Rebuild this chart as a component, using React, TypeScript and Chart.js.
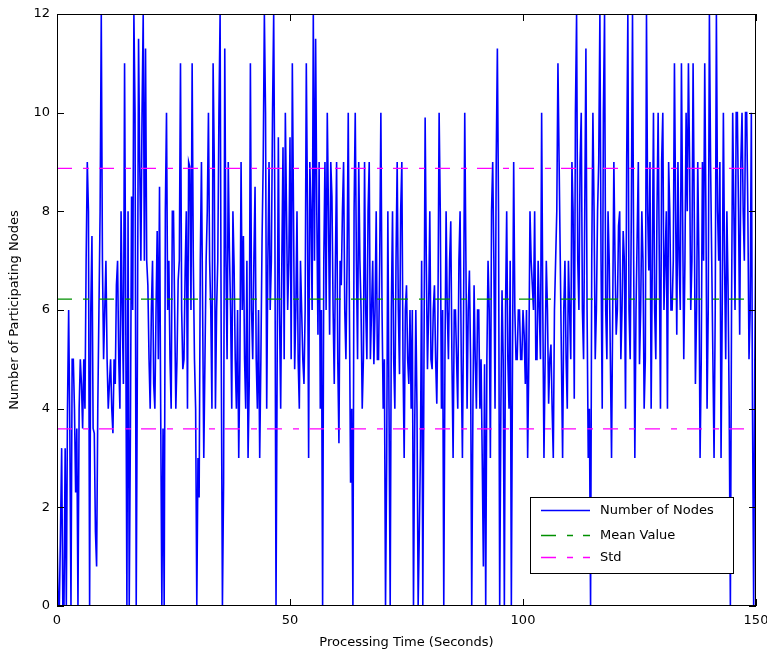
import React, { useEffect, useRef } from 'react';
import { Chart, registerables } from 'chart.js';

Chart.register(...registerables);

// sample spacing of the series (seconds)
const SAMPLE_STEP = 0.25;

// Number of participating nodes: samples on the half second
const nodesT0 = [1.5, 0, 3.2, 0, 0, 6, 0, 5, 2.3, 0, 5, 3.6, 4, 9, 0, 7.5, 3.5, 0.8, 6, 12, 5, 7, 4, 5, 3.5, 4.5, 7, 4, 6, 11, 0, 0, 8.3, 12, 0, 11.5, 7, 12];
const nodesT19 = [11.3, 6.5, 4, 7, 4, 7.6, 8.5, 0, 0, 10, 7, 4, 8, 4, 6.6, 11, 4.8, 6.8, 4, 8.9, 11, 5, 0, 2.2, 9, 3, 7, 10, 6, 11, 4, 7, 12, 0, 11.3, 5, 7.2, 4];
const nodesT38 = [6.9, 4, 3, 9, 7.5, 4, 3, 11, 5, 8.5, 4, 3, 7.4, 12, 4, 9, 7, 12, 0, 9.5, 4, 9.3, 10, 6, 9.5, 11, 4.8, 8, 4, 6, 4.5, 11, 3, 8, 12, 11.5, 5.5, 4];
const nodesT57 = [0, 9, 10, 5.5, 8.3, 4.5, 9, 3.3, 6.5, 9, 5, 10, 2.5, 0, 10, 5, 7, 4, 9, 5, 9, 6, 4.9, 8, 5, 10, 4, 0, 8, 0, 8, 4, 9, 4.7, 9, 3, 6.5, 4.5];
const nodesT76 = [4, 0, 6, 0, 3.2, 0, 9.9, 4.8, 8, 4.8, 6.5, 4.1, 10, 4, 0, 8, 5, 7.8, 3, 6, 4, 8, 3, 10, 4, 6.8, 0, 6.5, 4, 6, 5, 0.8, 0, 7, 3, 9, 4, 11.3];
const nodesT95 = [0, 6.4, 0, 8, 4, 0, 9, 5, 6, 5, 6, 4.5, 3, 8, 6.5, 8, 5, 6, 10, 3, 7, 4.1, 5.3, 3, 7, 11, 7, 3, 7, 4, 6, 9, 4.2, 12, 6, 10, 5];
const nodesT113 = [11.3, 3, 0, 10, 5, 8, 12, 4, 12, 5, 7, 3, 9, 5.5, 7.7, 5, 7.6, 4, 12, 5, 12, 3, 7.5, 4.9, 8, 4, 12, 6.8, 4, 10, 5, 10, 4, 10, 7, 4, 8, 6];
const nodesT132 = [11, 5.5, 7, 11, 5, 10, 11, 6, 11, 4.5, 9, 3, 9, 11, 4, 12, 7, 3, 12, 7, 3, 10, 5, 6.5, 0, 10, 6, 10, 5.5, 10, 7, 10, 5, 10, 0, 8];

// samples a quarter second after each of the above
const midT0 = [0, 1.5, 0, 3.2, 4, 3.6, 5, 4, 3.6, 4, 4.5, 5, 7, 8, 6, 3.6, 1.5, 4, 8, 7, 6, 5, 4.5, 4, 5, 6.5, 5, 8, 4.5, 6, 8, 3.5, 6, 10, 5, 9, 10, 7];
const midT19 = [7, 5, 6, 4.5, 6, 5, 4, 3.6, 8, 6, 5, 8, 6, 5, 7, 6, 5, 8, 9, 6, 7, 4, 3, 7, 6, 5, 8, 7, 4, 9, 6, 10, 5, 2.5, 7, 9, 6, 8];
const midT38 = [5, 6, 5, 6, 5, 7, 4.5, 6, 7, 5, 6, 5, 9, 10, 7, 6, 10, 8, 5, 6, 7, 5, 8, 7, 5, 8, 6, 5, 7, 5, 6, 8, 9, 6, 7, 8, 9, 6];
const midT57 = [7, 6, 8, 9, 6, 7, 5, 7, 8, 6, 7, 6, 4, 8, 7, 9, 6, 5, 6, 8, 5, 7, 6, 5, 7, 6, 5, 3, 4, 6, 5, 7, 6, 8, 5, 6, 5, 6];
const midT76 = [6, 3.5, 4, 1.5, 7, 5, 7, 6, 5, 6, 5, 6, 8, 6, 5, 6, 7, 5, 6, 5, 7, 5, 6, 7, 6, 5, 4, 5, 6, 4, 3, 4.9, 5, 6, 8, 7, 9, 8];
const midT95 = [4, 5, 6, 5, 7, 5, 6, 5, 6, 5, 5.5, 6, 5, 7, 6, 5, 7, 5, 6, 5, 6, 5, 4, 6, 8, 9, 5, 6, 5, 7, 5, 8, 10, 7, 9, 6, 8];
const midT113 = [6, 4, 7, 8, 6, 9, 7, 10, 6, 8, 5, 6, 7, 6, 8, 6, 7, 9, 6, 8, 7, 6, 9, 6, 7, 5, 8, 9, 7, 6, 8, 7, 9, 6, 8, 9, 6, 7];
const midT132 = [8, 9, 6, 8, 7, 8, 9, 7, 8, 6, 7, 5, 7, 8, 6, 9, 5, 6, 8, 9, 6, 7, 8, 4, 6, 8, 10, 8, 9, 8, 10, 8, 6, 4, 5];

const halfSecond = [
  ...nodesT0, ...nodesT19, ...nodesT38, ...nodesT57,
  ...nodesT76, ...nodesT95, ...nodesT113, ...nodesT132,
];
const quarterOffset = [
  ...midT0, ...midT19, ...midT38, ...midT57,
  ...midT76, ...midT95, ...midT113, ...midT132,
];
const nodeCounts: number[] = [];
halfSecond.forEach((v, i) => {
  nodeCounts.push(v);
  if (i < quarterOffset.length) nodeCounts.push(quarterOffset[i]);
});

const meanValue = 6.22;
const stdUpper = 8.87;
const stdLower = 3.59;

const xRange = [0, 150];
const yRange = [0, 12];
const xTickStep = 50;
const yTickStep = 2;

const seriesLabels = ['Number of Nodes', 'Mean Value', 'Std'];
const xTitle = 'Processing Time (Seconds)';
const yTitle = 'Number of Participating Nodes';

const FONT = "'DejaVu Sans', sans-serif";
const BLUE = '#0000ff';
const GREEN = '#009000';
const MAGENTA = '#ff00ff';
const DASH = [15, 11, 6, 10];

const framePlugin = {
  id: 'matlabFrame',
  afterDatasetsDraw(chart: any) {
    const { ctx, chartArea: a, scales } = chart;
    ctx.save();
    ctx.strokeStyle = '#000';
    ctx.lineWidth = 1;
    ctx.strokeRect(a.left + 0.5, a.top + 0.5, a.right - a.left - 1, a.bottom - a.top - 1);
    const tl = 7;
    ctx.beginPath();
    for (let v = xRange[0]; v <= xRange[1]; v += xTickStep) {
      const px = Math.round(scales.x.getPixelForValue(v)) + 0.5;
      ctx.moveTo(px, a.bottom);
      ctx.lineTo(px, a.bottom - tl);
      ctx.moveTo(px, a.top);
      ctx.lineTo(px, a.top + tl);
    }
    for (let v = yRange[0]; v <= yRange[1]; v += yTickStep) {
      const py = Math.round(scales.y.getPixelForValue(v)) + 0.5;
      ctx.moveTo(a.left, py);
      ctx.lineTo(a.left + tl, py);
      ctx.moveTo(a.right, py);
      ctx.lineTo(a.right - tl, py);
    }
    ctx.stroke();
    ctx.restore();
  },
  afterDraw(chart: any) {
    const { ctx, chartArea: a } = chart;
    const w = 203;
    const h = 76;
    const right = a.right - 23;
    const bottom = a.bottom - 33;
    const left = right - w;
    const top = bottom - h;
    ctx.save();
    ctx.fillStyle = '#fff';
    ctx.fillRect(left, top, w, h);
    ctx.strokeStyle = '#000';
    ctx.lineWidth = 1;
    ctx.strokeRect(Math.round(left) + 0.5, Math.round(top) + 0.5, w, h);
    const rows = [
      { label: seriesLabels[0], color: BLUE, dash: [] as number[], dy: 13 },
      { label: seriesLabels[1], color: GREEN, dash: DASH, dy: 38 },
      { label: seriesLabels[2], color: MAGENTA, dash: DASH, dy: 60 },
    ];
    ctx.font = `13px ${FONT}`;
    ctx.textBaseline = 'middle';
    ctx.textAlign = 'left';
    for (const r of rows) {
      const y = Math.round(top + r.dy) + 0.5;
      ctx.strokeStyle = r.color;
      ctx.lineWidth = 1.5;
      ctx.setLineDash(r.dash);
      ctx.beginPath();
      ctx.moveTo(left + 11, y);
      ctx.lineTo(left + 60, y);
      ctx.stroke();
      ctx.setLineDash([]);
      ctx.fillStyle = '#000';
      ctx.fillText(r.label, left + 70, y);
    }
    ctx.restore();
  },
};

export default function App() {
  const canvasRef = useRef<HTMLCanvasElement | null>(null);

  useEffect(() => {
    if (!canvasRef.current) return;
    const flat = (v: number) => [{ x: xRange[0], y: v }, { x: xRange[1], y: v }];
    const noEdgePad = (s: any) => {
      s.paddingLeft = 0;
      s.paddingRight = 0;
      s.paddingTop = 0;
      s.paddingBottom = 0;
    };
    const chart = new Chart(canvasRef.current, {
      type: 'line',
      data: {
        datasets: [
          {
            label: seriesLabels[0],
            data: nodeCounts.map((v, i) => ({ x: i * SAMPLE_STEP, y: v })),
            borderColor: BLUE,
            borderWidth: 1.6,
            pointRadius: 0,
            order: 3,
          },
          {
            label: seriesLabels[1],
            data: flat(meanValue),
            borderColor: GREEN,
            borderWidth: 1.4,
            borderDash: DASH,
            pointRadius: 0,
            order: 2,
          },
          {
            label: seriesLabels[2],
            data: flat(stdUpper),
            borderColor: MAGENTA,
            borderWidth: 1.4,
            borderDash: DASH,
            pointRadius: 0,
            order: 1,
          },
          {
            label: seriesLabels[2] + ' (lower)',
            data: flat(stdLower),
            borderColor: MAGENTA,
            borderWidth: 1.4,
            borderDash: DASH,
            pointRadius: 0,
            order: 1,
          },
        ],
      },
      options: {
        responsive: false,
        animation: false,
        events: [],
        layout: { padding: { left: 7, top: 14, right: 11, bottom: 4 } },
        plugins: { legend: { display: false }, tooltip: { enabled: false } },
        scales: {
          x: {
            type: 'linear',
            min: xRange[0],
            max: xRange[1],
            grid: { display: false, drawTicks: false },
            border: { display: false },
            ticks: { stepSize: xTickStep, color: '#000', font: { family: FONT, size: 13 }, padding: 7, maxRotation: 0 },
            title: { display: true, text: xTitle, color: '#000', font: { family: FONT, size: 13 }, padding: 0 },
            afterFit: (s: any) => { s.height = 44; noEdgePad(s); },
          },
          y: {
            type: 'linear',
            min: yRange[0],
            max: yRange[1],
            grid: { display: false, drawTicks: false },
            border: { display: false },
            ticks: { stepSize: yTickStep, color: '#000', font: { family: FONT, size: 13 }, padding: 7 },
            title: { display: true, text: yTitle, color: '#000', font: { family: FONT, size: 13 }, padding: 0 },
            afterFit: (s: any) => { s.width = 50; noEdgePad(s); },
          },
        },
      },
      plugins: [framePlugin],
    });
    return () => chart.destroy();
  }, []);

  return (
    <div style={{ position: 'fixed', left: 0, top: 0, width: 767, height: 654, background: '#fff' }}>
      <canvas ref={canvasRef} width={767} height={654} />
    </div>
  );
}
